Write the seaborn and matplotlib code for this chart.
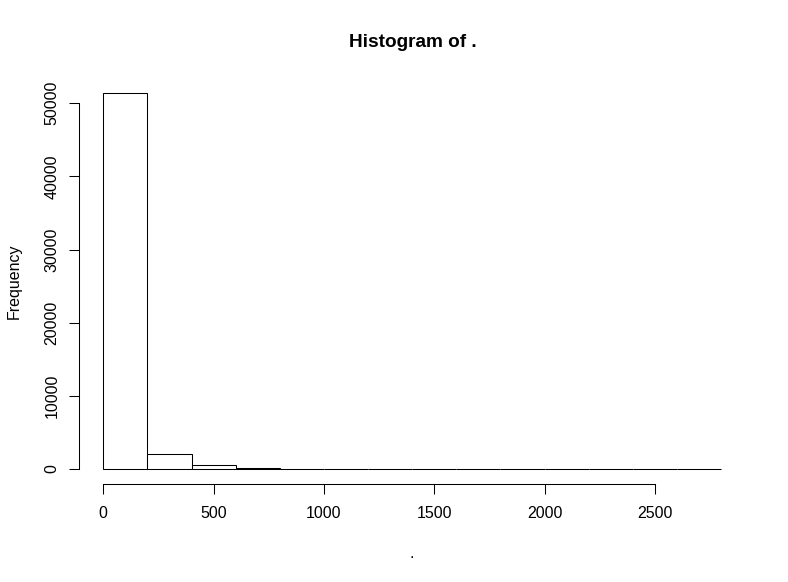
import numpy as np
import pandas as pd
import matplotlib
matplotlib.use("Agg")
import matplotlib.pyplot as plt
import seaborn as sns

# Data: histogram bins (edges) and counts
bin_edges = [0, 200, 400, 600, 800, 1000, 1200, 1400, 1600, 1800, 2000, 2200, 2400, 2600, 2800]
counts = [51370, 2100, 480, 150, 60, 30, 18, 12, 8, 6, 5, 4, 3, 2]
x_ticks = [0, 500, 1000, 1500, 2000, 2500]
y_ticks = [0, 10000, 20000, 30000, 40000, 50000]

centers = [(a + b) / 2 for a, b in zip(bin_edges[:-1], bin_edges[1:])]
df = pd.DataFrame({"value": centers, "count": counts})

sns.set_style("white")
plt.rcParams["font.family"] = ["Liberation Sans", "DejaVu Sans"]
plt.rcParams["text.color"] = "black"
plt.rcParams["axes.labelcolor"] = "black"
plt.rcParams["xtick.color"] = "black"
plt.rcParams["ytick.color"] = "black"

fig = plt.figure(figsize=(7.88, 5.82), dpi=100)
ax = fig.add_axes([0.0997, 0.1684, 0.8468, 0.6973])

sns.histplot(data=df, x="value", weights="count", bins=bin_edges, ax=ax,
             color="white", edgecolor="black", linewidth=0.75, alpha=1)

xr = bin_edges[-1] - bin_edges[0]
ax.set_xlim(bin_edges[0] - 0.04 * xr, bin_edges[-1] + 0.04 * xr)
ymax = max(counts)
ax.set_ylim(-0.04 * ymax, ymax * 1.04)

for s in ["top", "right"]:
    ax.spines[s].set_visible(False)
ax.spines["left"].set_bounds(y_ticks[0], y_ticks[-1])
ax.spines["bottom"].set_bounds(x_ticks[0], x_ticks[-1])
for s in ["left", "bottom"]:
    ax.spines[s].set_color("black")
    ax.spines[s].set_linewidth(0.75)

ax.set_xticks(x_ticks)
ax.set_yticks(y_ticks)
ax.set_xticklabels([str(t) for t in x_ticks], fontsize=11.5)
ax.set_yticklabels([str(t) for t in y_ticks], fontsize=11.5, rotation=90, va="center")
ax.tick_params(axis="both", direction="out", length=7.5, width=0.75, color="black",
               bottom=True, left=True)
ax.tick_params(axis="x", pad=8.6)
ax.tick_params(axis="y", pad=6.2)

ax.set_xlabel(".", fontsize=11.5)
ax.xaxis.set_label_coords(0.5, -0.1535)
ax.set_ylabel("Frequency", fontsize=11.5)
ax.yaxis.set_label_coords(-0.085, 0.5)
fig.text(0.524, 0.9192, "Histogram of .", ha="center", va="baseline",
         fontsize=13.7, fontweight="bold")

fig.savefig("out.png", dpi=100)
